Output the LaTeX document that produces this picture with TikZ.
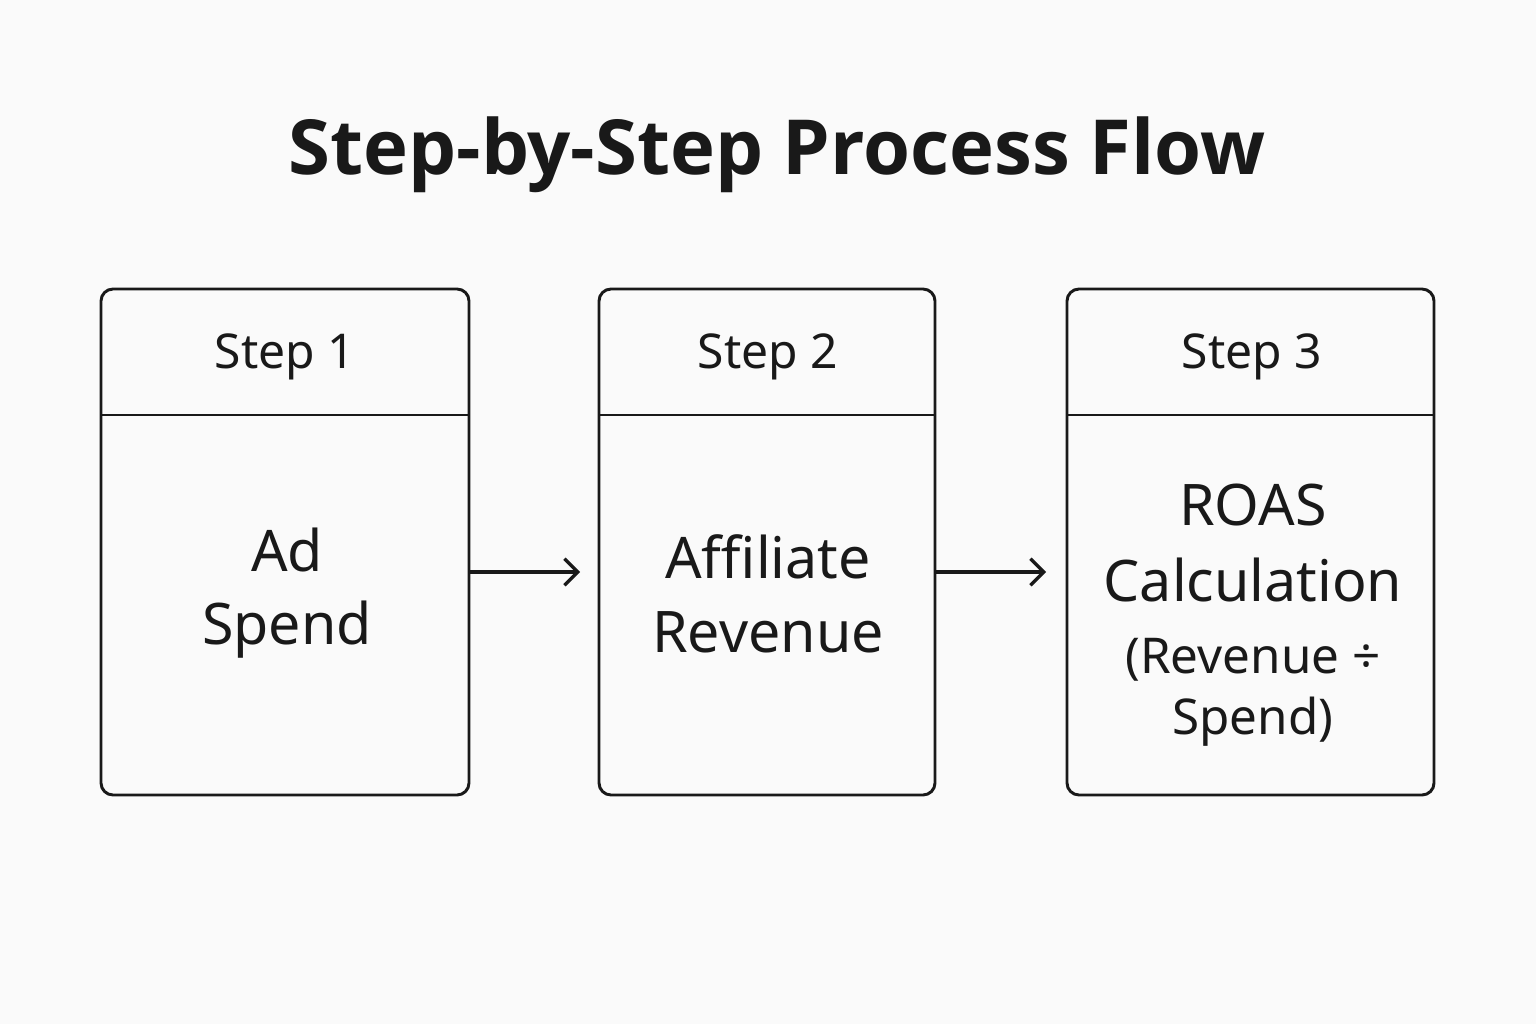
\documentclass[tikz,border=0pt]{standalone}
\usepackage{fontspec}
\setmainfont{Noto Sans}
\newfontfamily\titlefont{Open Sans}[BoldFont={* Bold}]
\usetikzlibrary{arrows.meta}
\begin{document}
\begin{tikzpicture}[x=0.75pt,y=-0.75pt,
  box/.style={draw=black!90,line width=2.2pt,rounded corners=9pt},
  hdr/.style={font=\fontsize{36}{40}\selectfont,text=black!90},
  body/.style={font=\fontsize{43}{55}\selectfont,align=center,text=black!90},
  arr/.style={line width=2.4pt,draw=black!90,-{Straight Barb[length=10pt,width=20pt,line width=2.4pt]}}]
\fill[white!98!black] (0,0) rectangle (1536,1024);
\useasboundingbox (0,0) rectangle (1536,1024);
\node[font=\titlefont\bfseries\fontsize{57}{62}\selectfont,text=black!90] (title) at (777,155) {Step-by-Step Process Flow};
% boxes
\draw[box] (101,289) rectangle (469,795);
\draw[line width=2.2pt,black!90] (101,415) -- (469,415);
\draw[box] (599,289) rectangle (935,795);
\draw[line width=2.2pt,black!90] (599,415) -- (935,415);
\draw[box] (1067,289) rectangle (1434,795);
\draw[line width=2.2pt,black!90] (1067,415) -- (1434,415);
\coordinate (b1r) at (469,572); \coordinate (b2l) at (580,572);
\coordinate (b2r) at (935,572); \coordinate (b3l) at (1046,572);
\node[hdr] (h1) at (285,357) {Step 1};
\node[hdr] (h2) at (768,357) {Step 2};
\node[hdr] (h3) at (1252,357) {Step 3};
\node[body] (t1) at (287,593) {Ad\\Spend};
\node[body] (t2) at (768,594) {Affiliate\\Revenue};
\node[body,font=\fontsize{43}{57}\selectfont] (t3a) at (1253,543) {ROAS\\Calculation};
\node[body,font=\fontsize{37}{46}\selectfont] (t3b) at (1253,692) {(Revenue ÷\\Spend)};
\draw[arr] (b1r) -- (b2l);
\draw[arr] (b2r) -- (b3l);
\end{tikzpicture}
\end{document}
